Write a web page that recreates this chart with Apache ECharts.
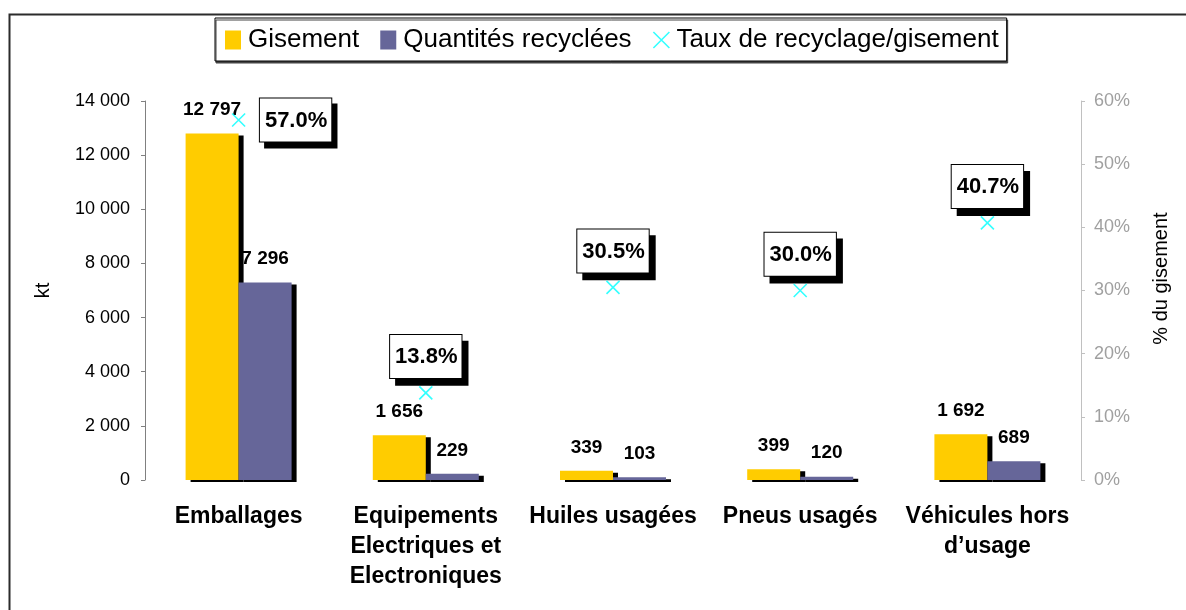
<!DOCTYPE html>
<html>
<head>
<meta charset="utf-8">
<script src="https://cdn.jsdelivr.net/npm/echarts@6/dist/echarts.min.js"></script>
<style>
  html, body { margin: 0; padding: 0; background: #fff; }
  #chart { width: 1186px; height: 610px; }
</style>
</head>
<body>
<div id="chart"></div>
<script>
// Waste streams and their recycling figures (kt, %)
const categories = [
  'Emballages',
  'Equipements\nElectriques et\nElectroniques',
  'Huiles usagées',
  'Pneus usagés',
  'Véhicules hors\nd\u2019usage'
];
const gisement = [12797, 1656, 339, 399, 1692];
const recyclees = [7296, 229, 103, 120, 689];
const tauxRecyclage = [57.0, 13.8, 30.5, 30.0, 40.7];

const leftTicks = { min: 0, max: 14000, interval: 2000 };
const rightTicks = { min: 0, max: 60, interval: 10 };

const FONT = "'Liberation Sans', Arial, sans-serif";

function spaced(v) {
  return String(v).replace(/\B(?=(\d{3})+(?!\d))/g, ' ');
}

const barShadow = { shadowColor: '#000', shadowBlur: 0, shadowOffsetX: 5, shadowOffsetY: 2 };
const valueLabel = {
  show: true, position: 'top', distance: 14,
  fontFamily: FONT, fontWeight: 'bold', fontSize: 19, color: '#000',
  formatter: p => spaced(p.value)
};

// boxed percentage label; the black copy underneath acts as its drop shadow
function boxLabel(bg, dx, dy) {
  return {
    show: true, position: 'top', distance: 16, offset: [dx, dy],
    opacity: 1, textBorderWidth: 0, textShadowBlur: 0, textShadowColor: 'transparent',
    formatter: p => '{box|' + p.value.toFixed(1) + '%}',
    rich: {
      box: {
        fontFamily: FONT, fontWeight: 'bold', fontSize: 22, color: '#000',
        backgroundColor: bg, borderColor: '#000', borderWidth: 1,
        padding: [11, 4, 10, 5], lineHeight: 26
      }
    }
  };
}
function boxData(dx, dy) {
  return tauxRecyclage.map((v, i) => i === 0
    ? { value: v, label: { position: 'right', distance: 14, offset: [dx, dy] } }
    : v);
}

const crossPath = 'path://M0,0L10,10M10,0L0,10';
const crossStyle = { color: 'rgba(0,0,0,0)', borderColor: '#00FFFF', borderWidth: 1.6 };

const chart = echarts.init(document.getElementById('chart'), null, { renderer: 'canvas' });

chart.setOption({
  backgroundColor: '#fff',
  animation: false,
  textStyle: { fontFamily: FONT },
  graphic: [{
    type: 'rect', left: 7, top: 12, z: 100, silent: true,
    shape: { width: 1300, height: 700 },
    style: { fill: 'none', stroke: '#2b2b2b', lineWidth: 2 }
  }],
  legend: {
    top: 18, left: 215,
    padding: [9, 8, 8, 10],
    itemGap: 21, itemWidth: 16, itemHeight: 19,
    borderColor: '#000', borderWidth: 1, backgroundColor: '#fff',
    shadowColor: '#444', shadowBlur: 0, shadowOffsetX: 1, shadowOffsetY: 2,
    textStyle: { fontFamily: FONT, fontSize: 26, color: '#000', padding: [0, 0, 0, 2] },
    data: [
      { name: 'Gisement', icon: 'rect' },
      { name: 'Quantités recyclées', icon: 'rect' },
      { name: 'Taux de recyclage/gisement', icon: crossPath, itemStyle: crossStyle }
    ]
  },
  grid: { left: 145, right: 105, top: 101, bottom: 130 },
  xAxis: {
    type: 'category',
    data: categories,
    axisLine: { show: false },
    axisTick: { show: false },
    axisLabel: {
      interval: 0, margin: 22,
      fontFamily: FONT, fontWeight: 'bold', fontSize: 23, lineHeight: 30, color: '#000'
    }
  },
  yAxis: [{
    type: 'value',
    min: leftTicks.min, max: leftTicks.max, interval: leftTicks.interval,
    name: 'kt', nameLocation: 'middle', nameGap: 92,
    nameTextStyle: { fontFamily: FONT, fontSize: 20, color: '#000' },
    splitLine: { show: false },
    axisLine: { show: true, lineStyle: { color: '#808080', width: 1 } },
    axisTick: { show: true, length: 4, lineStyle: { color: '#808080' } },
    axisLabel: { margin: 15, fontFamily: FONT, fontSize: 18, color: '#000', formatter: v => spaced(v) }
  }, {
    type: 'value', position: 'right',
    min: rightTicks.min, max: rightTicks.max, interval: rightTicks.interval,
    name: '% du gisement', nameLocation: 'middle', nameGap: 70, nameRotate: 90,
    nameTextStyle: { fontFamily: FONT, fontSize: 20, color: '#000', padding: [0, 0, 0, 24] },
    splitLine: { show: false },
    axisLine: { show: true, lineStyle: { color: '#c0c0c0', width: 1 } },
    axisTick: { show: true, length: 4, lineStyle: { color: '#c0c0c0' } },
    axisLabel: { margin: 13, fontFamily: FONT, fontSize: 18, color: '#a0a0a0', formatter: v => v + '%' }
  }],
  series: [{
    name: 'Gisement', type: 'bar', yAxisIndex: 0,
    barWidth: 53, barGap: '0%',
    itemStyle: Object.assign({ color: '#FFCC00' }, barShadow),
    label: valueLabel,
    data: gisement
  }, {
    name: 'Quantités recyclées', type: 'bar', yAxisIndex: 0,
    barWidth: 53, barGap: '0%',
    itemStyle: Object.assign({ color: '#666699' }, barShadow),
    label: valueLabel,
    data: recyclees
  }, {
    name: 'shadow', type: 'scatter', yAxisIndex: 1,
    symbol: crossPath, symbolSize: 13, z: 4, silent: true,
    itemStyle: { color: 'rgba(0,0,0,0)', borderColor: 'rgba(0,0,0,0)', borderWidth: 0 },
    label: boxLabel('#000', 6, 6),
    data: boxData(6, 6)
  }, {
    name: 'Taux de recyclage/gisement', type: 'scatter', yAxisIndex: 1,
    symbol: crossPath, symbolSize: 13, z: 5,
    itemStyle: crossStyle,
    label: boxLabel('#fff', 0, 0),
    data: boxData(0, 0)
  }]
});
</script>
</body>
</html>
